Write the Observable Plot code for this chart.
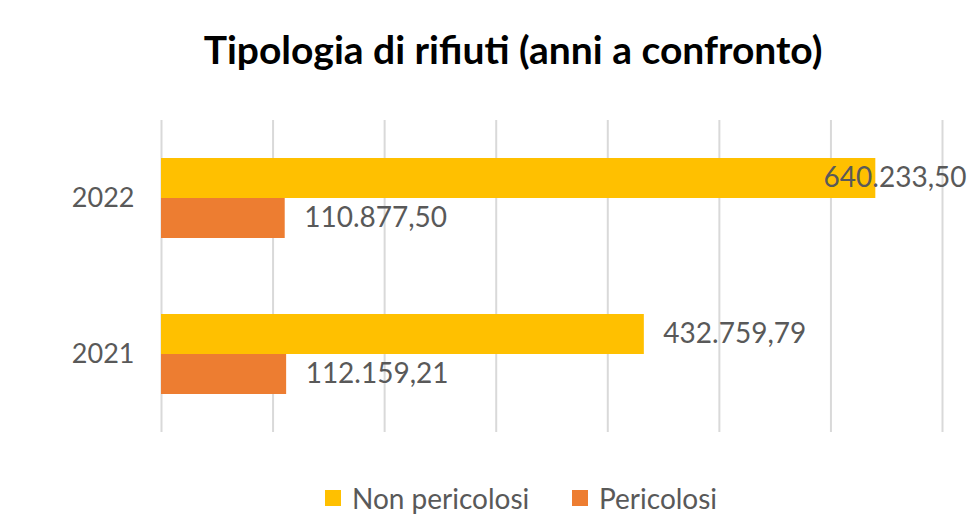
<!DOCTYPE html>
<html>
<head>
<meta charset="utf-8">
<script src="https://cdn.jsdelivr.net/npm/d3@7"></script>
<script src="https://cdn.jsdelivr.net/npm/@observablehq/plot@0.6"></script>
<style>
  html, body { margin: 0; padding: 0; background: #fff; }
  #wrap { position: relative; width: 968px; height: 527px; overflow: hidden; font-family: Lato, sans-serif; }
  #title { position: absolute; left: 0; width: 1026px; top: 30px; text-align: center; font-weight: 700; font-size: 39px; line-height: 39px; color: #000; white-space: nowrap; }
  #chart { position: absolute; left: 0; top: 0; }
  .leg { position: absolute; top: 484px; height: 28px; display: flex; align-items: center; font-size: 28px; color: #595959; white-space: nowrap; }
  .sw { width: 16px; height: 16px; display: inline-block; margin-right: 11px; }
</style>
</head>
<body>
<div id="wrap">
  <div id="chart"></div>
  <div id="title">Tipologia di rifiuti (anni a confronto)</div>
  <div id="legend"></div>
</div>
<script>
const years = ["2022", "2021"];
const seriesNames = ["Non pericolosi", "Pericolosi"];
const nonPericolosi = [640233.50, 432759.79];
const pericolosi = [110877.50, 112159.21];
const xTicks = [0, 100000, 200000, 300000, 400000, 500000, 600000, 700000];
const colors = ["#FFC000", "#ED7D31"];
const xMax = 700000;

const data = [];
years.forEach((y, i) => {
  data.push({year: y, series: seriesNames[0], value: nonPericolosi[i]});
  data.push({year: y, series: seriesNames[1], value: pericolosi[i]});
});

const it = d3.formatLocale({decimal: ",", thousands: ".", grouping: [3], currency: ["€", ""]});
const fmt = it.format(",.2f");

// labels that would run past the chart edge are pulled back to the right edge (as in the reference)
const fits = d => d.value < 0.85 * xMax;

const plot = Plot.plot({
  width: 968,
  height: 527,
  marginLeft: 161,
  marginRight: 26,
  marginTop: 119,
  marginBottom: 95,
  style: {fontFamily: "Lato, sans-serif", fontSize: "27px", color: "#595959", background: "transparent", overflow: "visible"},
  x: {domain: [0, xMax], axis: null},
  fy: {domain: years, padding: 0, label: null, tickSize: 0, tickPadding: 27},
  y: {domain: seriesNames, axis: null, paddingInner: 0, paddingOuter: 0.926},
  color: {domain: seriesNames, range: colors},
  marks: [
    Plot.ruleX(xTicks, {stroke: "#d9d9d9", strokeWidth: 2, strokeOpacity: 1}),
    Plot.barX(data, {x: "value", y: "series", fy: "year", fill: "series"}),
    Plot.text(data.filter(fits), {x: "value", y: "series", fy: "year", text: d => fmt(d.value), textAnchor: "start", dx: 19, fill: "#595959", fontSize: 28}),
    Plot.text(data.filter(d => !fits(d)), {y: "series", fy: "year", frameAnchor: "right", text: d => fmt(d.value), textAnchor: "end", dx: 24, fill: "#595959", fontSize: 28})
  ]
});
document.getElementById("chart").appendChild(plot);

const legend = document.getElementById("legend");
const legLefts = [325, 572];
seriesNames.forEach((s, i) => {
  const d = document.createElement("div");
  d.className = "leg";
  d.style.left = legLefts[i] + "px";
  const sw = document.createElement("span");
  sw.className = "sw";
  sw.style.background = colors[i];
  d.appendChild(sw);
  d.appendChild(document.createTextNode(s));
  legend.appendChild(d);
});
</script>
</body>
</html>
